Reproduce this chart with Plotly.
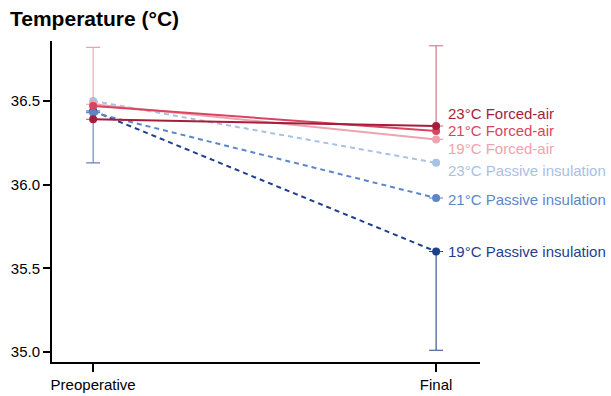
import plotly.graph_objects as go

timepoints = ["Preoperative", "Final"]
groups = ["23°C Forced-air", "21°C Forced-air", "19°C Forced-air",
          "23°C Passive insulation", "21°C Passive insulation", "19°C Passive insulation"]
preop = [36.39, 36.47, 36.48, 36.50, 36.43, 36.44]
final = [36.35, 36.32, 36.27, 36.13, 35.92, 35.60]
# SD bars (only some are drawn in the figure): [preop, final]
err_plus = [[0, 0.48], [0, 0], [0.34, 0], [0, 0], [0, 0], [0, 0]]
err_minus = [[0, 0], [0, 0], [0, 0], [0, 0], [0.30, 0], [0, 0.59]]

colors = ["#a51d3c", "#d84561", "#eea3ae", "#a8c1e4", "#5b86c9", "#1d3f8c"]
err_colors = ["#d06a7e", "#d84561", "#eaa3ae", "#a8c1e4", "#6680b4", "#2a4890"]
dashes = ["solid", "solid", "solid", "5px,4px", "5px,4px", "5px,4px"]
label_yshift = [13, 1, -9, -8, -2, 0]

FONT = "Liberation Sans, Arial, sans-serif"
xs = [0, 1]
fig = go.Figure()
order = [5, 4, 3, 2, 1, 0]
for i in order:
    show_err = any(err_plus[i]) or any(err_minus[i])
    fig.add_trace(go.Scatter(
        x=xs, y=[preop[i], final[i]], mode="lines+markers",
        line=dict(color=colors[i], width=2, dash=dashes[i]),
        marker=dict(color=colors[i], size=8),
        error_y=dict(type="data", symmetric=False, array=err_plus[i],
                     arrayminus=err_minus[i], color=err_colors[i],
                     thickness=1.1, width=7, visible=show_err),
        showlegend=False, name=groups[i],
    ))
    fig.add_annotation(x=1, y=final[i], text=groups[i], showarrow=False,
                       xanchor="left", yanchor="middle", xshift=10,
                       yshift=label_yshift[i],
                       font=dict(color=colors[i], size=15, family=FONT))

fig.add_annotation(text="<b>Temperature (°C)</b>", xref="paper", yref="paper",
                   x=(8 - 52) / 428, y=1 + 23 / 321, xanchor="left", yanchor="middle",
                   showarrow=False,
                   font=dict(size=21, color="black", family=FONT))

fig.update_layout(
    width=611, height=396,
    margin=dict(l=52, r=131, t=41, b=34),
    paper_bgcolor="white", plot_bgcolor="white",
    font=dict(family=FONT, size=15, color="black"),
    xaxis=dict(range=[-0.12, 1.128], tickvals=xs, ticktext=timepoints,
               showline=True, linecolor="black", linewidth=2, ticks="outside",
               ticklen=8, tickwidth=2, tickcolor="black", showgrid=False,
               zeroline=False, automargin=False),
    yaxis=dict(range=[34.94, 36.858], tickvals=[35.0, 35.5, 36.0, 36.5],
               tickformat=".1f", showline=True, linecolor="black", linewidth=2,
               ticks="outside", ticklen=7, tickwidth=2, tickcolor="black",
               showgrid=False, zeroline=False, automargin=False),
)

fig.write_html("out.html")
